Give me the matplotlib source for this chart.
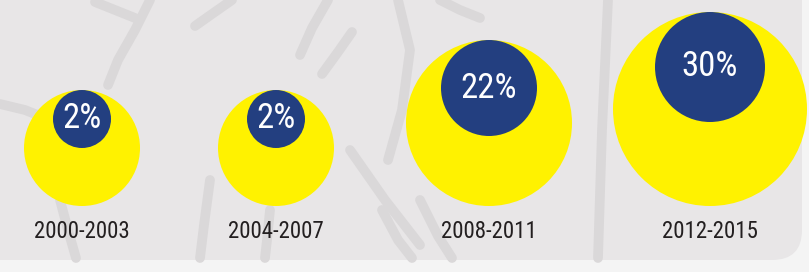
import matplotlib
matplotlib.use("Agg")
import matplotlib.pyplot as plt
from matplotlib.patches import Circle, FancyBboxPatch

# Données
periodes = ["2000-2003", "2004-2007", "2008-2011", "2012-2015"]
parts = [2, 2, 22, 30]              # pourcentage affiché
taille_totale = [58, 58, 83, 97]    # taille relative du disque jaune
taille_part = [29, 29, 48, 55]      # taille relative du disque bleu

# Mise en page (pixels)
x_centres = [82, 276, 489, 710]
y_base = 206
y_label = 231

jaune = "#fff200"
bleu = "#233f80"
fond = "#e8e6e7"
trait = "#dad8d9"
police = ["Roboto Condensed", "DejaVu Sans"]

fig = plt.figure(figsize=(8.09, 2.72), dpi=100)
fig.patch.set_facecolor("#f4f4f4")
ax = fig.add_axes([0, 0, 1, 1])
ax.set_xlim(0, 809)
ax.set_ylim(272, 0)
ax.set_aspect("equal")
ax.axis("off")

# Panneau de fond arrondi
ax.add_patch(FancyBboxPatch((-40, -40), 842, 300,
                            boxstyle="round,pad=0,rounding_size=30",
                            fc=fond, ec="none", zorder=0))

# Filigrane (traits décoratifs)
traits = [
    ([0, 25, 45], [104, 110, 118]),
    ([150, 135, 118, 108], [0, 30, 60, 85]),
    ([95, 115, 135], [2, 10, 18]),
    ([232, 212, 195], [0, 14, 26]),
    ([328, 312, 300], [0, 28, 55]),
    ([352, 338, 322], [32, 52, 74]),
    ([350, 385, 420], [150, 200, 245]),
    ([210, 204, 200], [180, 225, 258]),
    ([270, 267, 265], [210, 240, 258]),
    ([60, 68, 76], [200, 230, 258]),
    ([398, 410, 402, 388], [0, 50, 110, 160]),
    ([382, 398, 412], [210, 240, 258]),
    ([420, 438, 452], [200, 236, 258]),
    ([440, 460, 480], [0, 10, 18]),
    ([608, 602, 598], [0, 130, 258]),
]
for xs, ys in traits:
    ax.plot(xs, ys, color=trait, lw=7, solid_capstyle="round", zorder=1)

for x, per, p, R, r in zip(x_centres, periodes, parts, taille_totale, taille_part):
    yc = y_base - R
    ax.add_patch(Circle((x, yc), R, fc=jaune, ec="none", zorder=2))
    yb = yc - R + r
    ax.add_patch(Circle((x, yb), r, fc=bleu, ec="none", zorder=3))
    ax.text(x, yb, f"{p}%", color="white", fontsize=25, family=police,
            fontstretch="condensed", ha="center", va="center", zorder=4)
    ax.text(x, y_label, per, color="#231f20", fontsize=16.5, family=police,
            fontstretch="condensed", ha="center", va="center", zorder=4)

fig.savefig("out.png", dpi=100, facecolor=fig.get_facecolor())
